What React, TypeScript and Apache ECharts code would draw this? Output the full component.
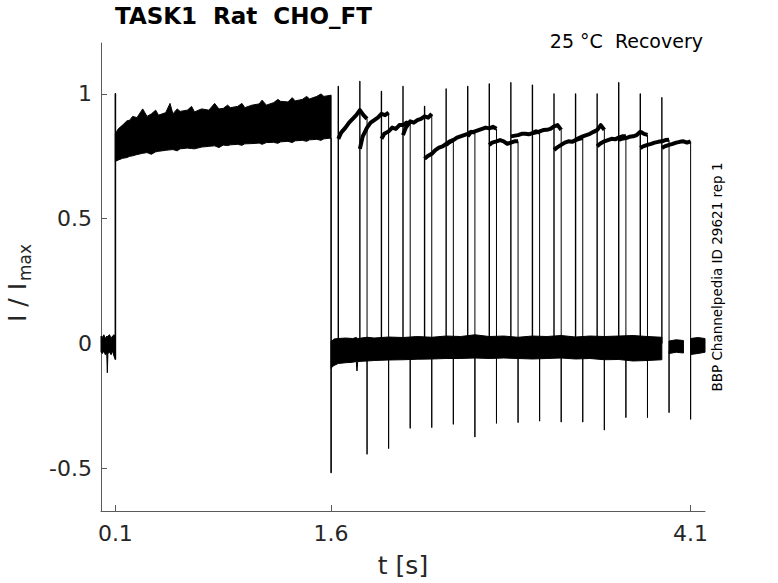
import React, { useEffect, useRef } from "react";
import * as echarts from "echarts";

// ---- axis ticks ----
const X_TICKS = [0.1, 1.6, 4.1];
const Y_TICKS = [-0.5, 0, 0.5, 1];

// ---- baseline before conditioning pulse (envelope of overlaid sweeps) ----
const PRE_T = [0, 0.01, 0.02, 0.03, 0.04, 0.044, 0.048, 0.06, 0.07, 0.08, 0.09, 0.1];
const PRE_HI = [0.03, 0.025, 0.035, 0.02, 0.03, 0.025, 0.03, 0.035, 0.02, 0.03, 0.035, 0.03];
const PRE_LO = [-0.035, -0.04, -0.03, -0.045, -0.04, -0.117, -0.04, -0.035, -0.045, -0.03, -0.05, -0.064];

// ---- conditioning pulse envelope (0.1 s .. 1.6 s) ----
const P1_T = [0.1, 0.12, 0.15, 0.18, 0.2, 0.22, 0.25, 0.29, 0.32, 0.35, 0.38, 0.4, 0.45, 0.48, 0.5, 0.53, 0.55, 0.6, 0.63, 0.65, 0.7, 0.75, 0.79, 0.82, 0.85, 0.88, 0.9, 0.95, 0.98, 1.0, 1.05, 1.1, 1.12, 1.15, 1.2, 1.23, 1.25, 1.3, 1.33, 1.35, 1.4, 1.43, 1.45, 1.5, 1.53, 1.55, 1.6];
const P1_HI = [0.84, 0.86, 0.875, 0.892, 0.895, 0.91, 0.905, 0.94, 0.91, 0.92, 0.935, 0.915, 0.925, 0.962, 0.92, 0.94, 0.93, 0.935, 0.95, 0.928, 0.94, 0.935, 0.962, 0.94, 0.942, 0.955, 0.945, 0.95, 0.962, 0.945, 0.955, 0.96, 0.975, 0.955, 0.965, 0.978, 0.97, 0.968, 0.985, 0.972, 0.978, 0.99, 0.98, 0.99, 1.0, 0.99, 0.995];
const P1_LO = [0.73, 0.735, 0.742, 0.745, 0.75, 0.752, 0.757, 0.762, 0.765, 0.758, 0.768, 0.77, 0.774, 0.776, 0.777, 0.772, 0.78, 0.783, 0.781, 0.78, 0.787, 0.79, 0.792, 0.785, 0.795, 0.793, 0.796, 0.798, 0.794, 0.8, 0.801, 0.803, 0.798, 0.805, 0.806, 0.802, 0.808, 0.81, 0.805, 0.812, 0.814, 0.81, 0.816, 0.818, 0.814, 0.82, 0.823];

// ---- baseline during recovery interval (1.6 s .. 3.9 s) ----
const POST_T = [1.6, 1.605, 1.62, 1.65, 1.7, 1.75, 1.775, 1.78, 1.785, 1.85, 1.9, 2.0, 2.1, 2.2, 2.3, 2.4, 2.5, 2.6, 2.7, 2.8, 2.9, 3.0, 3.1, 3.2, 3.3, 3.4, 3.5, 3.6, 3.7, 3.8, 3.9];
const POST_HI = [0.01, 0.01, 0.018, 0.02, 0.022, 0.02, 0.024, 0.022, 0.02, 0.025, 0.022, 0.026, 0.024, 0.028, 0.025, 0.03, 0.028, 0.035, 0.028, 0.03, 0.025, 0.03, 0.028, 0.032, 0.026, 0.03, 0.028, 0.03, 0.032, 0.028, 0.025];
const POST_LO = [-0.1, -0.095, -0.088, -0.08, -0.077, -0.075, -0.072, -0.11, -0.072, -0.07, -0.068, -0.066, -0.065, -0.063, -0.062, -0.06, -0.06, -0.058, -0.06, -0.058, -0.06, -0.062, -0.06, -0.058, -0.062, -0.06, -0.065, -0.064, -0.07, -0.068, -0.065];

// ---- short baseline pieces at the end ----
const TAIL1_T = [3.95, 4.0, 4.05];
const TAIL1_HI = [0.01, 0.015, 0.012];
const TAIL1_LO = [-0.04, -0.035, -0.038];
const TAIL2_T = [4.1, 4.15, 4.2];
const TAIL2_HI = [0.02, 0.024, 0.02];
const TAIL2_LO = [-0.044, -0.04, -0.035];

// ---- conditioning pulse on/off transients ----
const STEP_T = [0.1, 1.6];
const STEP_PEAK = [1.0, -0.517];

// ---- test pulses (recovery) ----
const ONSET = [1.65, 1.8, 1.95, 2.1, 2.25, 2.4, 2.55, 2.7, 2.85, 3.0, 3.15, 3.3, 3.45, 3.6, 3.75, 3.9];
const TEST_OFFSETS = [0, 0.02, 0.05, 0.075, 0.1, 0.125, 0.15, 0.175, 0.2];
const PEAK_UP = [1.03, 1.05, 1.01, 1.03, 0.95, 1.02, 1.03, 1.04, 1.045, 1.035, 1.0, 1.0, 1.0, 1.045, 1.0, 0.985];
const PEAK_DOWN = [-0.444, -0.421, -0.34, -0.337, -0.324, -0.375, -0.32, -0.317, -0.311, -0.315, -0.315, -0.347, -0.297, -0.297, -0.277, -0.304];
const TEST_CURRENT = [
  [0.82, 0.845, 0.865, 0.885, 0.9, 0.915, 0.935, 0.915, 0.9],
  [0.78, 0.83, 0.865, 0.885, 0.895, 0.905, 0.92, 0.915, 0.925],
  [0.82, 0.84, 0.85, 0.865, 0.86, 0.875, 0.875, 0.885, 0.88],
  [0.835, 0.865, 0.89, 0.885, 0.895, 0.9, 0.91, 0.905, 0.92],
  [0.74, 0.75, 0.76, 0.775, 0.785, 0.79, 0.8, 0.81, 0.815],
  [0.795, 0.805, 0.815, 0.825, 0.83, 0.835, 0.84, 0.848, 0.845],
  [0.83, 0.845, 0.85, 0.855, 0.86, 0.865, 0.862, 0.868, 0.86],
  [0.795, 0.805, 0.81, 0.815, 0.81, 0.8, 0.805, 0.81, 0.81],
  [0.83, 0.832, 0.835, 0.84, 0.84, 0.838, 0.843, 0.85, 0.845],
  [0.843, 0.845, 0.85, 0.855, 0.856, 0.86, 0.87, 0.875, 0.856],
  [0.776, 0.785, 0.796, 0.805, 0.81, 0.808, 0.815, 0.82, 0.823],
  [0.816, 0.822, 0.83, 0.835, 0.84, 0.848, 0.855, 0.875, 0.856],
  [0.79, 0.8, 0.81, 0.815, 0.82, 0.818, 0.825, 0.83, 0.83],
  [0.816, 0.82, 0.823, 0.828, 0.83, 0.835, 0.848, 0.84, 0.836],
  [0.783, 0.79, 0.796, 0.8, 0.805, 0.808, 0.81, 0.815, 0.816],
  [0.783, 0.79, 0.796, 0.8, 0.805, 0.808, 0.81, 0.805, 0.81],
];

const TITLE = "TASK1  Rat  CHO_FT";
const SUBTITLE = "25 °C  Recovery";
const SIDE_NOTE = "BBP Channelpedia ID 29621 rep 1";
const X_NAME = "t [s]";
const Y_NAME_MAIN = "I / I";
const Y_NAME_SUB = "max";

const FONT = "DejaVu Sans";

export default function App() {
  const ref = useRef<HTMLDivElement>(null);
  useEffect(() => {
    if (!ref.current) return;
    const chart = echarts.init(ref.current, undefined, { renderer: "svg" });

    const bands = [
      { t: PRE_T, hi: PRE_HI, lo: PRE_LO },
      { t: P1_T, hi: P1_HI, lo: P1_LO },
      { t: POST_T, hi: POST_HI, lo: POST_LO },
      { t: TAIL1_T, hi: TAIL1_HI, lo: TAIL1_LO },
      { t: TAIL2_T, hi: TAIL2_HI, lo: TAIL2_LO },
    ];

    type Poly = { pts: number[][]; w: number; c: string };
    const polys: Poly[] = [];
    polys.push({ pts: [[STEP_T[0], PRE_LO[PRE_LO.length - 1]], [STEP_T[0], STEP_PEAK[0]], [STEP_T[0], P1_LO[0]]], w: 1.6, c: "#000" });
    polys.push({ pts: [[STEP_T[1], P1_LO[P1_LO.length - 1]], [STEP_T[1], STEP_PEAK[1]], [STEP_T[1], POST_LO[0]]], w: 1.6, c: "#000" });
    ONSET.forEach((on, k) => {
      const row = TEST_CURRENT[k];
      const end = on + TEST_OFFSETS[TEST_OFFSETS.length - 1];
      polys.push({ pts: [[on, 0], [on, PEAK_UP[k]], [on, row[0]]], w: 1.4, c: "#000" });
      polys.push({ pts: TEST_OFFSETS.map((o, j) => [on + o, row[j]]), w: 4, c: "#000" });
      polys.push({ pts: [[end, row[row.length - 1]], [end, PEAK_DOWN[k]], [end, -0.03]], w: 1, c: "#000" });
    });

    chart.setOption({
      animation: false,
      backgroundColor: "#fff",
      title: {
        text: TITLE,
        left: 115,
        top: 4,
        padding: 0,
        textStyle: { fontFamily: FONT, fontSize: 23, fontWeight: "bold", color: "#000" },
      },
      grid: { left: 101, right: 73, top: 43, bottom: 71, containLabel: false },
      xAxis: {
        type: "value",
        min: 0,
        max: 4.2,
        name: X_NAME,
        nameLocation: "middle",
        nameGap: 42,
        nameTextStyle: { fontFamily: FONT, fontSize: 25, color: "#262626" },
        axisLine: { show: true, onZero: false, lineStyle: { color: "#5a5a5a", width: 1 } },
        axisTick: { show: true, inside: true, length: 6, customValues: X_TICKS, lineStyle: { color: "#5a5a5a" } },
        axisLabel: { customValues: X_TICKS, fontFamily: FONT, fontSize: 22, color: "#262626", margin: 11 },
        splitLine: { show: false },
      },
      yAxis: {
        type: "value",
        min: -0.671,
        max: 1.204,
        axisLine: { show: true, onZero: false, lineStyle: { color: "#5a5a5a", width: 1 } },
        axisTick: { show: true, inside: true, length: 6, customValues: Y_TICKS, lineStyle: { color: "#5a5a5a" } },
        axisLabel: { customValues: Y_TICKS, fontFamily: FONT, fontSize: 22, color: "#262626", margin: 9 },
        splitLine: { show: false },
      },
      series: [
        {
          type: "custom",
          coordinateSystem: "cartesian2d",
          data: bands.map((b, i) => [b.t[0], b.hi[0], i]),
          renderItem: (params: any, api: any) => {
            const b = bands[params.dataIndex];
            const lo = b.t.map((t, j) => api.coord([t, b.lo[j]]));
            const hi = b.t.map((t, j) => api.coord([t, b.hi[j]])).reverse();
            return {
              type: "polygon",
              shape: { points: lo.concat(hi) },
              style: { fill: "#000", stroke: "#000", lineWidth: 1 },
            };
          },
        },
        {
          type: "custom",
          coordinateSystem: "cartesian2d",
          data: polys.map((p, i) => [p.pts[0][0], p.pts[0][1], i]),
          renderItem: (params: any, api: any) => {
            const p = polys[params.dataIndex];
            return {
              type: "polyline",
              shape: { points: p.pts.map((pt) => api.coord(pt)) },
              style: { fill: "none", stroke: p.c, lineWidth: p.w, lineJoin: "round" },
            };
          },
        },
      ],
      graphic: [
        {
          type: "text",
          x: 703,
          y: 41,
          style: {
            text: SUBTITLE,
            fontFamily: FONT,
            fontSize: 19,
            fill: "#000",
            align: "right",
            verticalAlign: "middle",
            textAlign: "right",
            textVerticalAlign: "middle",
          },
        },
        {
          type: "text",
          x: 717,
          y: 277,
          rotation: Math.PI / 2,
          style: {
            text: SIDE_NOTE,
            fontFamily: FONT,
            fontSize: 13.5,
            fill: "#000",
            align: "center",
            verticalAlign: "middle",
            textAlign: "center",
            textVerticalAlign: "middle",
          },
        },
        {
          type: "group",
          x: 17,
          y: 322,
          rotation: Math.PI / 2,
          children: [
            {
              type: "text",
              x: 0,
              y: 0,
              style: {
                text: Y_NAME_MAIN,
                fontFamily: FONT,
                fontSize: 25,
                fill: "#262626",
                align: "left",
                verticalAlign: "middle",
                textAlign: "left",
                textVerticalAlign: "middle",
              },
            },
            {
              type: "text",
              x: 41,
              y: 8,
              style: {
                text: Y_NAME_SUB,
                fontFamily: FONT,
                fontSize: 17,
                fill: "#262626",
                align: "left",
                verticalAlign: "middle",
                textAlign: "left",
                textVerticalAlign: "middle",
              },
            },
          ],
        },
      ],
    });
    return () => chart.dispose();
  }, []);
  return (
    <div
      ref={ref}
      style={{ position: "fixed", left: 0, top: 0, width: 778, height: 583, background: "#fff" }}
    />
  );
}
